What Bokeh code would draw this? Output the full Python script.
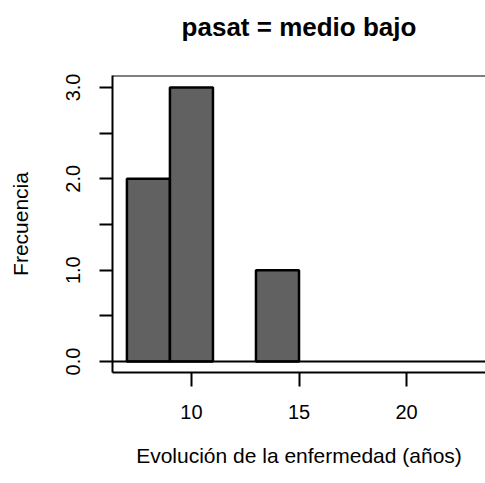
from bokeh.plotting import figure
from bokeh.models import Range1d, FixedTicker, Span
from bokeh.embed import file_html
from bokeh.resources import INLINE

# Histogram data
bin_left = [7, 9, 13]
bin_right = [9, 11, 15]
counts = [2, 3, 1]
x_ticks = [10, 15, 20]
y_ticks = [0, 0.5, 1, 1.5, 2, 2.5, 3]
y_tick_labels = {0: "0.0", 0.5: "", 1: "1.0", 1.5: "", 2: "2.0", 2.5: "", 3: "3.0"}
title_text = "pasat = medio bajo"

p = figure(width=485, height=483, output_backend="svg", toolbar_location=None,
           x_range=Range1d(6.33, 23.67), y_range=Range1d(-0.12, 3.131))
p.min_border_left = 112
p.min_border_right = 0
p.min_border_top = 75
p.min_border_bottom = 111
p.background_fill_color = "white"
p.border_fill_color = "white"
p.outline_line_color = None
p.grid.visible = False

# a second, blank line lifts the title up within the top border
p.title.text = title_text + "\n\u00a0"
p.title.text_font = "Liberation Sans"
p.title.text_font_style = "bold"
p.title.text_font_size = "26px"
p.title.text_color = "black"
p.title.align = "center"
p.title.offset = 0
p.title.standoff = 8

p.quad(left=bin_left, right=bin_right, bottom=0, top=counts,
       fill_color="#616161", line_color="black", line_width=2.5)

p.add_layout(Span(location=0, dimension="width", line_color="black", line_width=2))
p.add_layout(Span(location=3.131, dimension="width", line_color="black", line_width=2))

xa = p.xaxis[0]
xa.ticker = FixedTicker(ticks=x_ticks)
xa.axis_line_width = 2
xa.major_tick_line_width = 2
xa.major_tick_out = 14
xa.major_tick_in = 0
xa.minor_tick_line_color = None
xa.major_label_text_font = "Liberation Sans"
xa.major_label_text_font_size = "20px"
xa.major_label_text_color = "black"
xa.major_label_standoff = 18
xa.axis_label = "Evolución de la enfermedad (años)"
xa.axis_label_text_font = "Liberation Sans"
xa.axis_label_text_font_size = "21px"
xa.axis_label_text_font_style = "normal"
xa.axis_label_text_color = "black"
xa.axis_label_standoff = 22

ya = p.yaxis[0]
ya.ticker = FixedTicker(ticks=y_ticks)
ya.major_label_overrides = y_tick_labels
ya.major_label_orientation = "vertical"
ya.axis_line_width = 2
ya.major_tick_line_width = 2
ya.major_tick_out = 13
ya.major_tick_in = 0
ya.minor_tick_line_color = None
ya.major_label_text_font = "Liberation Sans"
ya.major_label_text_font_size = "20px"
ya.major_label_text_color = "black"
ya.major_label_standoff = 19
ya.axis_label = "Frecuencia"
ya.axis_label_text_font = "Liberation Sans"
ya.axis_label_text_font_size = "21px"
ya.axis_label_text_font_style = "normal"
ya.axis_label_text_color = "black"
ya.axis_label_standoff = 32

open("out.html", "w").write(file_html(p, INLINE))
